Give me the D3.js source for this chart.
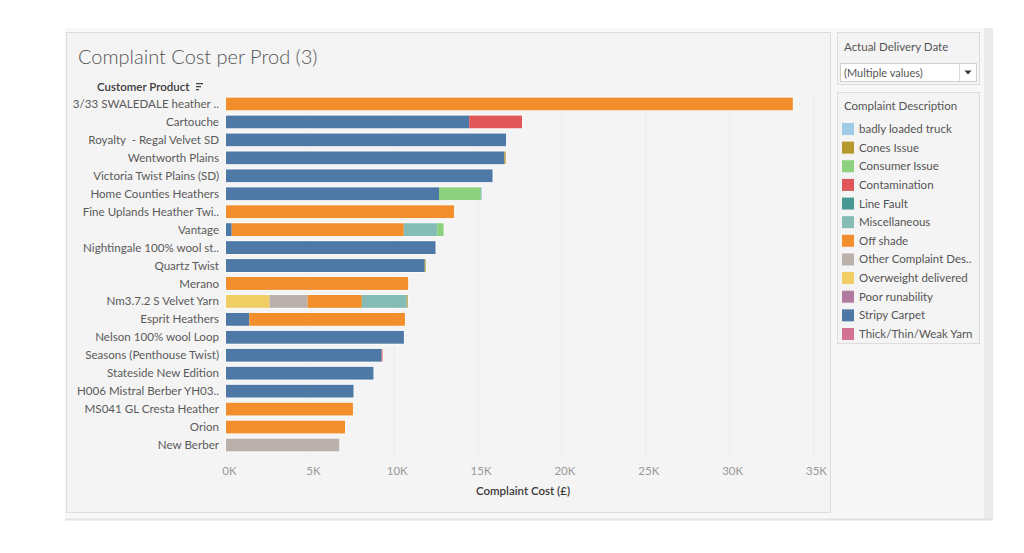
<!DOCTYPE html>
<html>
<head>
<meta charset="utf-8">
<script src="https://cdn.jsdelivr.net/npm/d3@7"></script>
<style>
  body { margin: 0; background: #ffffff; }
  svg { display: block; font-family: Lato, "Open Sans", sans-serif; }
  .ylab { white-space: pre; }
</style>
</head>
<body>
<div id="container"></div>
<script>
// products top to bottom
const products = [
  "3/33 SWALEDALE heather ..", "Cartouche", "Royalty  - Regal Velvet SD", "Wentworth Plains",
  "Victoria Twist Plains (SD)", "Home Counties Heathers", "Fine Uplands Heather Twi..", "Vantage",
  "Nightingale 100% wool st..", "Quartz Twist", "Merano", "Nm3.7.2 S Velvet Yarn",
  "Esprit Heathers", "Nelson 100% wool Loop", "Seasons (Penthouse Twist)", "Stateside New Edition",
  "H006 Mistral Berber YH03..", "MS041 GL Cresta Heather", "Orion", "New Berber"
];

const categories = [
  "badly loaded truck", "Cones Issue", "Consumer Issue", "Contamination", "Line Fault",
  "Miscellaneous", "Off shade", "Other Complaint Des..", "Overweight delivered",
  "Poor runability", "Stripy Carpet", "Thick/Thin/Weak Yarn"
];
const catColors = [
  "#a0cbe8", "#b6992d", "#8cd17d", "#e15759", "#499894",
  "#86bcb6", "#f28e2b", "#bab0ac", "#f1ce63", "#b07aa1", "#4e79a7", "#d37295"
];

// stacked segments per product, in drawing order: [category, cost £]
const segments = [
  [["Off shade", 33800]],
  [["Stripy Carpet", 14500], ["Contamination", 3150]],
  [["Stripy Carpet", 16700]],
  [["Stripy Carpet", 16600], ["Cones Issue", 80]],
  [["Stripy Carpet", 15900]],
  [["Stripy Carpet", 12700], ["Consumer Issue", 2500], ["badly loaded truck", 60]],
  [["Off shade", 13600]],
  [["Stripy Carpet", 340], ["Off shade", 10260], ["Miscellaneous", 2000], ["Consumer Issue", 380]],
  [["Stripy Carpet", 12500]],
  [["Stripy Carpet", 11850], ["Cones Issue", 60]],
  [["Off shade", 10870]],
  [["Overweight delivered", 2600], ["Other Complaint Des..", 2270], ["Off shade", 3230], ["Miscellaneous", 2680], ["Cones Issue", 60]],
  [["Stripy Carpet", 1390], ["Off shade", 9280]],
  [["Stripy Carpet", 10610]],
  [["Stripy Carpet", 9280], ["Contamination", 60]],
  [["Stripy Carpet", 8800]],
  [["Stripy Carpet", 7610]],
  [["Off shade", 7570]],
  [["Off shade", 7100]],
  [["Other Complaint Des..", 6760]]
];

const xTicks = [0, 5000, 10000, 15000, 20000, 25000, 30000, 35000];

const W = 1024, H = 553;
const svg = d3.select("#container").append("svg")
  .attr("width", W).attr("height", H);

// dashboard background pieces
svg.append("rect").attr("x", 65).attr("y", 28).attr("width", 928).attr("height", 492)
  .attr("fill", "#f7f7f7");
svg.append("rect").attr("x", 984).attr("y", 28).attr("width", 9).attr("height", 492)
  .attr("fill", "#ebebeb");
svg.append("line").attr("x1", 65).attr("x2", 993).attr("y1", 519.5).attr("y2", 519.5)
  .attr("stroke", "#e2e2e2").attr("stroke-width", 2);

// chart panel
svg.append("rect").attr("x", 66.5).attr("y", 32.5).attr("width", 764).attr("height", 480)
  .attr("fill", "#f4f4f4").attr("stroke", "#dcdcdc");

svg.append("text").attr("x", 78).attr("y", 64)
  .attr("font-size", 20).attr("font-weight", 300).attr("fill", "#555")
  .text("Complaint Cost per Prod (3)");

// scales
const x = d3.scaleLinear().domain([0, 35000]).range([226, 813]);
const y = d3.scaleBand().domain(products).range([95, 454]).paddingInner(0.28).paddingOuter(0.14);

// gridlines
svg.append("g").selectAll("line").data(xTicks.slice(1)).join("line")
  .attr("x1", d => x(d) + 0.5).attr("x2", d => x(d) + 0.5)
  .attr("y1", 95).attr("y2", 456)
  .attr("stroke", "#ececec");

// header
svg.append("text").attr("x", 97).attr("y", 91)
  .attr("font-size", 11.5).attr("font-weight", 600).attr("fill", "#3a3a3a")
  .text("Customer Product");
const sortIcon = svg.append("g").attr("transform", "translate(196,83)");
[7, 5, 3].forEach((w, i) => {
  sortIcon.append("rect").attr("x", 0).attr("y", i * 3).attr("width", w).attr("height", 1.3).attr("fill", "#444");
});

// y labels
svg.append("g").selectAll("text").data(products).join("text")
  .attr("class", "ylab")
  .attr("x", 219).attr("y", d => y(d) + y.bandwidth() / 2)
  .attr("dy", "0.35em").attr("text-anchor", "end")
  .attr("font-size", 11.6).attr("fill", "#5a5a5a")
  .text(d => d);

const color = d3.scaleOrdinal().domain(categories).range(catColors);

// bars
const rows = svg.append("g").selectAll("g").data(products).join("g")
  .attr("transform", d => `translate(0,${y(d)})`);

rows.each(function(p, i) {
  let acc = 0;
  const segs = segments[i].map(s => {
    const o = { cat: s[0], x0: acc, x1: acc + s[1] };
    acc += s[1];
    return o;
  });
  d3.select(this).selectAll("rect").data(segs).join("rect")
    .attr("x", d => x(d.x0))
    .attr("width", d => Math.max(0.8, x(d.x1) - x(d.x0)))
    .attr("height", y.bandwidth())
    .attr("fill", d => color(d.cat));
  d3.select(this).append("rect")
    .attr("x", x(0) - 0.5).attr("y", -0.5)
    .attr("width", x(acc) - x(0) + 1).attr("height", y.bandwidth() + 1)
    .attr("fill", "none").attr("stroke", "#ffffff").attr("stroke-opacity", 0.55);
});

// x axis
const xAxis = svg.append("g").attr("transform", "translate(3,458)")
  .call(d3.axisBottom(x).tickValues(xTicks).tickSize(0).tickPadding(9)
    .tickFormat(d => (d / 1000) + "K"));
xAxis.select(".domain").remove();
xAxis.selectAll("text").attr("font-size", 11.5).attr("fill", "#999")
  .attr("font-family", "Lato, sans-serif");

svg.append("text").attr("x", 523).attr("y", 495).attr("text-anchor", "middle")
  .attr("font-size", 11.5).attr("font-weight", 600).attr("fill", "#3a3a3a")
  .text("Complaint Cost (£)");

// filter card
svg.append("rect").attr("x", 837.5).attr("y", 32.5).attr("width", 142).attr("height", 52)
  .attr("fill", "#f4f4f4").attr("stroke", "#dcdcdc");
svg.append("text").attr("x", 844).attr("y", 51).attr("font-size", 11.5).attr("fill", "#555")
  .text("Actual Delivery Date");
svg.append("rect").attr("x", 840.5).attr("y", 63.5).attr("width", 136).attr("height", 18)
  .attr("fill", "#fff").attr("stroke", "#cfcfcf");
svg.append("line").attr("x1", 959.5).attr("x2", 959.5).attr("y1", 64).attr("y2", 81)
  .attr("stroke", "#dcdcdc");
svg.append("text").attr("x", 844).attr("y", 76.5).attr("font-size", 11).attr("fill", "#555")
  .text("(Multiple values)");
svg.append("path").attr("d", "M964.5,70.5 L971.5,70.5 L968,74.5 Z").attr("fill", "#333");

// legend card
svg.append("rect").attr("x", 837.5).attr("y", 92.5).attr("width", 142).attr("height", 251)
  .attr("fill", "#f4f4f4").attr("stroke", "#dcdcdc");
svg.append("text").attr("x", 844).attr("y", 110).attr("font-size", 11.5).attr("fill", "#555")
  .text("Complaint Description");

const ly = d3.scalePoint().domain(categories).range([129, 334]);
const legend = svg.append("g").selectAll("g").data(categories).join("g")
  .attr("transform", d => `translate(842,${ly(d)})`);
legend.append("rect").attr("x", 0).attr("y", -6).attr("width", 12).attr("height", 12)
  .attr("fill", d => color(d));
legend.append("text").attr("x", 17).attr("dy", "0.35em")
  .attr("font-size", 11.5).attr("fill", "#555")
  .text(d => d);
</script>
</body>
</html>
